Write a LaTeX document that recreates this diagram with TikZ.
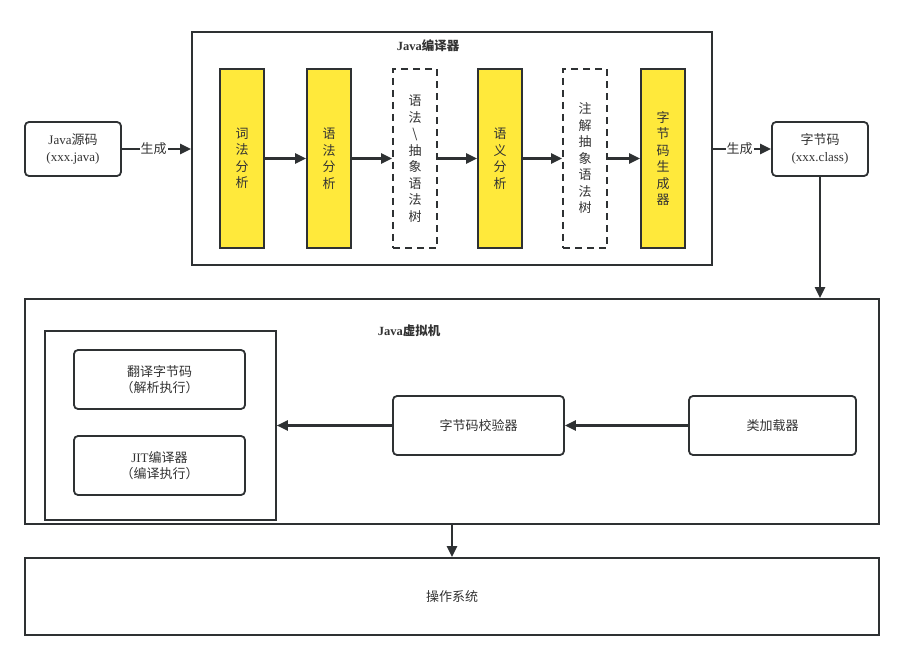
\documentclass[tikz,border=0pt]{standalone}
\usepackage{fontspec}
\setmainfont{Liberation Serif}
\newfontfamily\cjk{Noto Sans CJK SC}
\newfontfamily\lat{Liberation Serif}
\usetikzlibrary{arrows.meta}
\definecolor{ln}{HTML}{2E3133}
\definecolor{yel}{HTML}{FFE93B}
\definecolor{txt}{HTML}{333333}
\begin{document}
\begin{tikzpicture}[x=1pt,y=-1pt,
  every node/.style={text=txt, font=\fontsize{13}{16.5}\selectfont\cjk, inner sep=0pt},
  rbox/.style={draw=ln, line width=1.8pt, rounded corners=4pt, fill=white, align=center},
  frame/.style={draw=ln, line width=1.8pt, fill=white},
  col/.style={draw=ln, line width=1.8pt, fill=yel, minimum width=44pt, minimum height=179pt, align=center},
  dcol/.style={draw=ln, line width=1.8pt, dashed, dash pattern=on 7pt off 5pt, fill=white, minimum width=44pt, minimum height=179pt, align=center},
  arr/.style={draw=ln, line width=2.2pt, -{Triangle[length=11pt,width=10pt]}},
  lbl/.style={fill=white, inner sep=1pt},
  title/.style={font=\fontsize{12.5}{15}\selectfont\cjk\bfseries}
]
\useasboundingbox (0,0) rectangle (903,660);
% compiler frame
\node[frame, minimum width=520pt, minimum height=233pt] (comp) at (452,148.5) {};
\node[title] (ctitle) at (428,46) {{\lat\bfseries Java}编译器};
\node[rbox, minimum width=96pt, minimum height=54pt] (src) at (73,149) {{\lat Java}源码\\{\lat (xxx.java)}};
\node[col] (c1) at (242,158.5) {词\\法\\分\\析};
\node[col] (c2) at (329,158.5) {语\\法\\分\\析};
\node[dcol] (c3) at (415,158.5) {语\\法\\\textbackslash\\抽\\象\\语\\法\\树};
\node[col] (c4) at (500,158.5) {语\\义\\分\\析};
\node[dcol] (c5) at (585,158.5) {注\\解\\抽\\象\\语\\法\\树};
\node[col] (c6) at (663,158.5) {字\\节\\码\\生\\成\\器};
\node[rbox, minimum width=96pt, minimum height=54pt] (bc) at (820,149) {字节码\\{\lat (xxx.class)}};
% jvm
\node[frame, minimum width=854pt, minimum height=225pt] (jvm) at (452,411.5) {};
\node[title] (jtitle) at (409,331) {{\lat\bfseries Java}虚拟机};
\node[frame, line width=1.6pt, minimum width=231pt, minimum height=189pt] (inner) at (160.5,425.5) {};
\node[rbox, minimum width=171pt, minimum height=59pt] (trans) at (159.5,379.5) {翻译字节码\\（解析执行）};
\node[rbox, minimum width=171pt, minimum height=59pt] (jit) at (159.5,465.5) {{\lat JIT}编译器\\（编译执行）};
\node[rbox, minimum width=171pt, minimum height=59pt] (ver) at (478.5,425.5) {字节码校验器};
\node[rbox, minimum width=167pt, minimum height=59pt] (load) at (772.5,425.5) {类加载器};
% os
\node[frame, minimum width=854pt, minimum height=77pt] (os) at (452,596.5) {操作系统};
% arrows
\draw[arr] (src.east) -- node[lbl, pos=0.46] (g1) {生成} (src.east -| comp.west);
\draw[arr] (c1) -- (c2);
\draw[arr] (c2) -- (c3);
\draw[arr] (c3) -- (c4);
\draw[arr] (c4) -- (c5);
\draw[arr] (c5) -- (c6);
\draw[arr] (bc.west -| comp.east) -- node[lbl, pos=0.46] (g2) {生成} (bc.west);
\draw[arr] (bc.south) -- (bc.south |- jvm.north);
\draw[arr] (load.west) -- (ver.east);
\draw[arr] (ver.west) -- (ver.west -| inner.east);
\draw[arr] (jvm.south) -- (os.north);
\end{tikzpicture}
\end{document}
